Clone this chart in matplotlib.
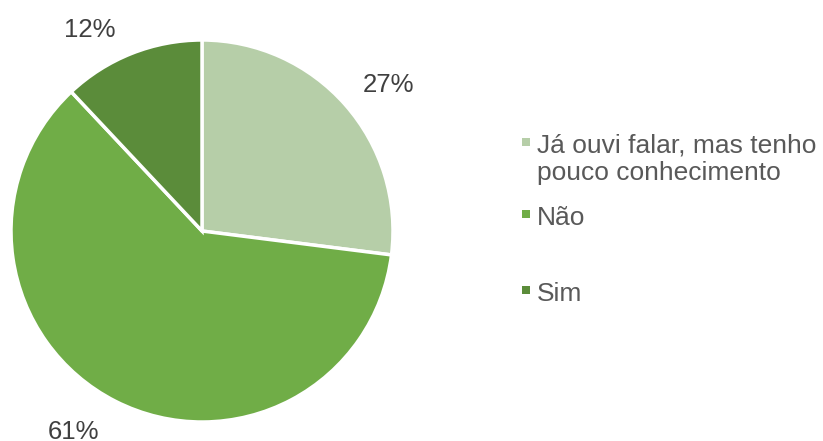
import matplotlib
matplotlib.use('Agg')
import matplotlib.pyplot as plt
from matplotlib.patches import Rectangle

# ── DATA ──
labels = ['Já ouvi falar, mas tenho\npouco conhecimento', 'Não', 'Sim']
values = [27, 61, 12]
colors = ['#B6CEA8', '#70AD47', '#5B8C3A']

# label placement (pie data units, baseline of text) - mimics Office "best fit"
pct_pos = [(0.974, 0.728), (-0.675, -1.089), (-0.586, 1.016)]

plt.rcParams['font.family'] = ['Liberation Sans', 'DejaVu Sans']

W, H = 823, 441
fig = plt.figure(figsize=(W / 100, H / 100), dpi=100)
ax = fig.add_axes([11 / W, 19 / H, 382 / W, 382 / H])

wedges, texts, autotexts = ax.pie(
    values, colors=colors, startangle=90, counterclock=False,
    autopct='%1.0f%%', pctdistance=1.2,
    wedgeprops=dict(edgecolor='white', linewidth=2.5),
    textprops=dict(fontsize=18.5, color='#404040'))
for t, (px, py) in zip(autotexts, pct_pos):
    t.set_position((px, py))
    t.set_va('baseline')
    t.set_clip_on(False)
ax.set_xlim(-1, 1)
ax.set_ylim(-1, 1)
ax.set_aspect('equal')
ax.axis('off')

# ── legend (manual, keeps the uneven spacing of the original) ──
cap_top = [134, 206, 282]
for lab, col, y in zip(labels, colors, cap_top):
    fig.patches.append(Rectangle((522 / W, 1 - (y + 12) / H), 8 / W, 8 / H,
                                 transform=fig.transFigure, facecolor=col,
                                 edgecolor='none'))
    fig.text(537 / W, 1 - y / H, lab, fontsize=19, color='#595959',
             va='top', ha='left', linespacing=1.15)

fig.savefig('out.png', dpi=100)
